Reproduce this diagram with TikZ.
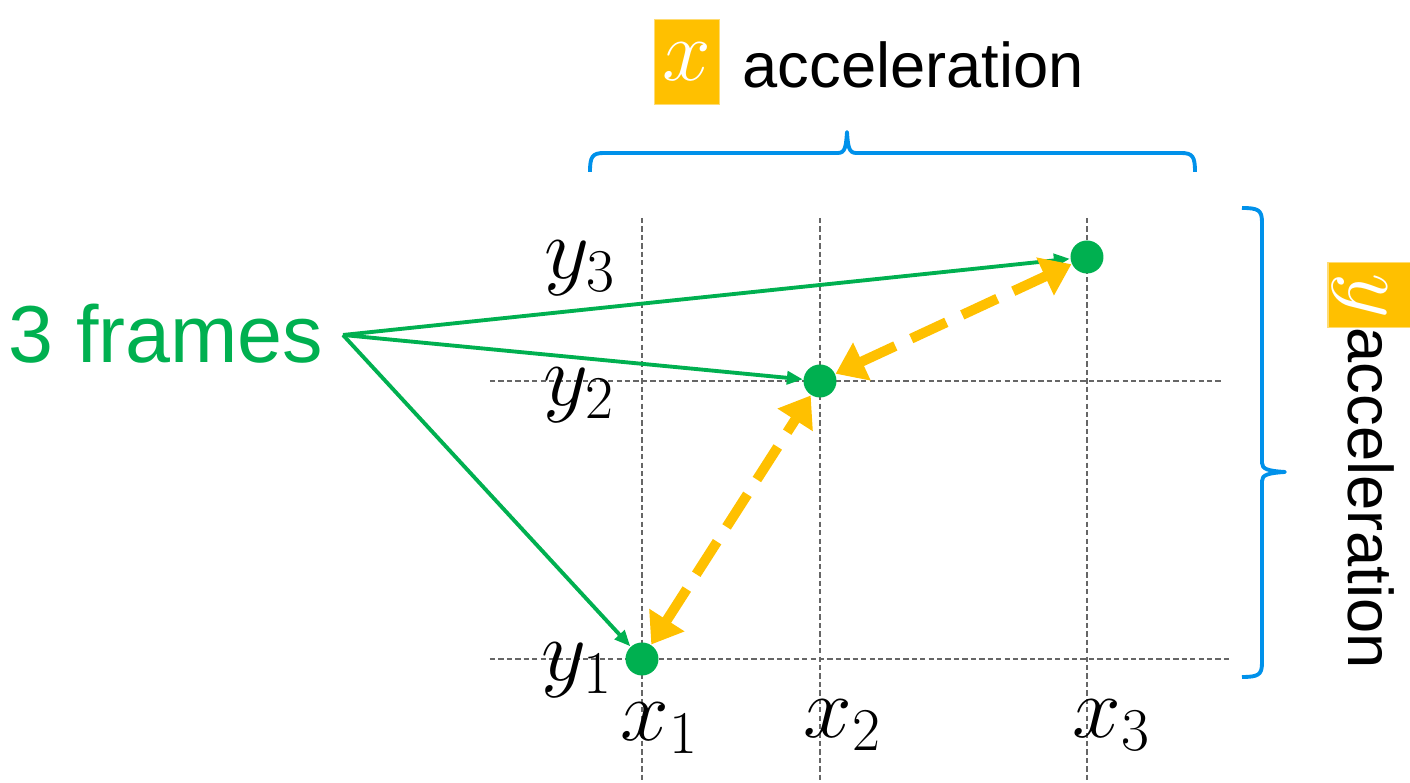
\documentclass[tikz,border=0pt]{standalone}
\usepackage{fontspec}
\setmainfont{Liberation Sans}
\usetikzlibrary{arrows.meta}

\definecolor{framegreen}{HTML}{00B050}
\definecolor{accorange}{HTML}{FFC000}
\definecolor{braceblue}{HTML}{0091EA}
\definecolor{gridgray}{HTML}{666666}

\tikzset{
  dot/.style={circle,fill=framegreen,minimum size=0.33cm,inner sep=0pt},
  gridline/.style={gridgray,line width=0.45pt,dash pattern=on 1.5pt off 0.9pt},
  framearrow/.style={framegreen,line width=1.1pt,-{Triangle[length=0.16cm,width=0.13cm]}},
  accarrow/.style={accorange,line width=2.85pt,dash pattern=on 11pt off 5pt,
    {Triangle[length=0.29cm,width=0.40cm]}-{Triangle[length=0.29cm,width=0.40cm]}},
  bracestyle/.style={braceblue,line width=1.1pt,line join=round},
  varbox/.style={fill=accorange,draw=accorange!55,line width=0.4pt,text=white,
    minimum width=0.65cm,minimum height=0.85cm,inner sep=0pt,font=\fontsize{24}{28}\selectfont},
  varlabel/.style={inner sep=0pt,font=\fontsize{24}{28}\selectfont},
  acclabel/.style={font=\fontsize{18}{22}\selectfont,inner sep=0pt}
}

\begin{document}
\begin{tikzpicture}
        \useasboundingbox (0,0) rectangle (14.10,7.83);
        % grid
        \draw[gridline] (6.42,5.65) -- (6.42,0);
        \draw[gridline] (8.20,5.65) -- (8.20,0);
        \draw[gridline] (10.87,5.65) -- (10.87,0);
        \draw[gridline] (4.90,4.02) -- (12.22,4.02);
        \draw[gridline] (4.90,1.24) -- (12.32,1.24);
        % frames
        \node[dot] (p1) at (6.42,1.24) {};
        \node[dot] (p2) at (8.20,4.02) {};
        \node[dot] (p3) at (10.87,5.26) {};
        \node[varlabel] (ly3) at (5.80,5.15) {$y_3$};
        \node[varlabel] (ly2) at (5.79,3.88) {$y_2$};
        \node[varlabel] (ly1) at (5.77,1.13) {$y_1$};
        \node[varlabel] (lx1) at (6.60,0.55) {$x_1$};
        \node[varlabel] (lx2) at (8.43,0.58) {$x_2$};
        \node[varlabel] (lx3) at (11.12,0.58) {$x_3$};
        % 3 frames
        \node[framegreen,anchor=base,inner sep=0pt,font=\fontsize{23}{27}\selectfont] (frames) at (1.66,4.20) {3 frames};
        \coordinate (src) at (3.43,4.48);
        \draw[framearrow] (src) -- (p3);
        \draw[framearrow] (src) -- (p2);
        \draw[framearrow] (src) -- (p1);
        % acceleration arrows
        \draw[accarrow] (p1) -- (p2);
        \draw[accarrow] (p2) -- (p3);
        % x acceleration
        \draw[bracestyle] (5.90,6.11) .. controls (5.90,6.26) and (5.92,6.30) .. (6.04,6.30)
          -- (8.38,6.30) .. controls (8.45,6.30) and (8.46,6.36) .. (8.47,6.51)
          .. controls (8.48,6.36) and (8.49,6.30) .. (8.56,6.30)
          -- (11.81,6.30) .. controls (11.93,6.30) and (11.95,6.26) .. (11.95,6.11);
        \node[varbox] (xbox) at (6.87,7.21) {$x$};
        \node[acclabel,anchor=base west] (xacc) at (7.42,6.95) {acceleration};
        % y acceleration
        \draw[bracestyle] (12.42,5.75) .. controls (12.58,5.75) and (12.62,5.73) .. (12.62,5.61)
          -- (12.62,3.20) .. controls (12.62,3.14) and (12.68,3.12) .. (12.85,3.11)
          .. controls (12.68,3.10) and (12.62,3.08) .. (12.62,3.02)
          -- (12.62,1.20) .. controls (12.62,1.08) and (12.58,1.06) .. (12.42,1.06);
        \fill[accorange] (13.28,4.555) rectangle (14.20,5.205);
        \draw[accorange!55,line width=0.4pt] (14.20,5.205) -- (13.28,5.205) -- (13.28,4.555) -- (14.20,4.555);
        \node[varlabel,text=white,rotate=-90] (ybox) at (13.60,4.87) {$y$};
        \node[acclabel,rotate=-90,anchor=base west] (yacc) at (13.48,4.56) {acceleration};
    \end{tikzpicture}
\end{document}
